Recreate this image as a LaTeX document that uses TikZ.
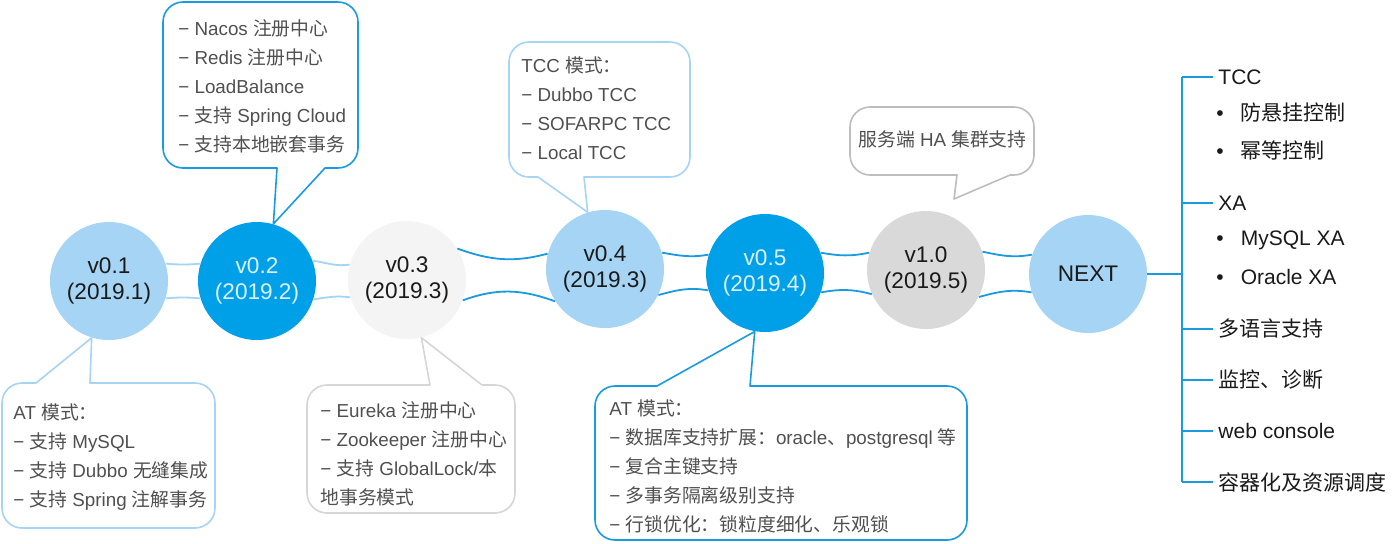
\documentclass[tikz,border=0pt]{standalone}
\usepackage{fontspec}
\setmainfont{Liberation Sans}
\newfontfamily\cjk{Noto Sans CJK SC}
\newcommand{\zh}[1]{{\cjk #1}}
\usepackage{tikz}
\usetikzlibrary{positioning,calc}

\definecolor{lblue}{HTML}{A6D4F4}
\definecolor{dblue}{HTML}{00A0E9}
\definecolor{lineblue}{HTML}{1A9BE0}
\definecolor{pale}{HTML}{F4F4F4}
\definecolor{midgray}{HTML}{D9D9D9}
\definecolor{ink}{HTML}{1A1A1A}
\definecolor{memogray}{HTML}{505050}
\definecolor{whitetxt}{HTML}{DDF1FC}
\definecolor{edgegray}{HTML}{D6D6D6}
\definecolor{edgedark}{HTML}{BDBDBD}

\begin{document}
\begin{tikzpicture}[x=0.5pt, y=-0.5pt,
    ver/.style={circle, minimum size=59pt, inner sep=0pt, fill=#1, align=center,
                font=\fontsize{11.3pt}{12.8pt}\selectfont, text=ink},
    ver/.default=lblue,
    memo/.style={anchor=north west, inner sep=0pt, align=left, text=memogray,
                 font=\fontsize{9.4pt}{14.5pt}\selectfont},
    bubble/.style={draw=#1, line width=0.8pt, line join=round},
    link/.style={draw=#1, line width=0.9pt},
    link/.default=lineblue,
    leaf/.style={anchor=west, inner xsep=2.5pt, inner ysep=0pt, text=ink,
                 font=\fontsize{10.5pt}{13pt}\selectfont},
    subleaf/.style={anchor=west, inner sep=0pt, text=ink,
                 font=\fontsize{10.5pt}{13pt}\selectfont},
    tree/.style={draw=lineblue, line width=1pt},
]
\path[fill=white, use as bounding box] (0,0) rectangle (1400,543);

% ===== versions =====
\node[ver]                      (v01) at (109,281)  {v0.1\\(2019.1)};
\node[ver=dblue, text=whitetxt] (v02) at (257,281)  {v0.2\\(2019.2)};
\node[ver=pale]                 (v03) at (407,280)  {v0.3\\(2019.3)};
\node[ver]                      (v04) at (605,269)  {v0.4\\(2019.3)};
\node[ver=dblue, text=whitetxt] (v05) at (765,273)  {v0.5\\(2019.4)};
\node[ver=midgray]              (v10) at (926,270)  {v1.0\\(2019.5)};
\node[ver]                      (next) at (1088,274) {NEXT};

% ===== double links =====
\draw[link=lblue] (v01.17) to[out=-5, in=185] (v02.163);
\draw[link=lblue] (v01.-17) to[out=5, in=175] (v02.-163);
\draw[link=lblue] (v02.20) to[out=-8, in=188] (v03.165);
\draw[link=lblue] (v02.-18) to[out=8, in=172] (v03.-163);
\draw[link] (v03.32) to[out=-20, in=195] (v04.165);
\draw[link] (v03.-20) to[out=20, in=160] (v04.-147);
\draw[link] (v04.16) to[out=-10, in=190] (v05.162);
\draw[link] (v04.-26) to[out=15, in=170] (v05.-163);
\draw[link] (v05.20) to[out=-10, in=192] (v10.163);
\draw[link] (v05.-19) to[out=10, in=165] (v10.-156);
\draw[link] (v10.18) to[out=-12, in=190] (next.161);
\draw[link] (v10.-27) to[out=15, in=170] (next.-162);

% ===== callouts =====
% v0.2
\draw[bubble=lineblue] (260,2) [rounded corners=10pt] -- (163,2) -- (163,168)
    [sharp corners] -- (277,168) -- (v02.74) -- (325,168)
    [rounded corners=10pt] -- (358,168) -- (358,2) -- cycle;
\node[memo] (t02) at (178,19) {− Nacos \zh{注册中心}\\− Redis \zh{注册中心}\\− LoadBalance\\− \zh{支持} Spring Cloud\\− \zh{支持本地嵌套事务}};

% v0.1
\draw[bubble=lblue] (150,528) [rounded corners=10pt] -- (2,528) -- (2,383)
    [sharp corners] -- (36,383) -- (v01.-107) -- (90,383)
    [rounded corners=10pt] -- (215,383) -- (215,528) -- cycle;
\node[memo] (t01) at (13,403) {AT \zh{模式：}\\− \zh{支持} MySQL\\− \zh{支持} Dubbo \zh{无缝集成}\\− \zh{支持} Spring \zh{注解事务}};

% v0.3
\draw[bubble=edgegray] (400,513) [rounded corners=10pt] -- (307,513) -- (307,385)
    [sharp corners] -- (430,385) -- (v03.-76) -- (482,385)
    [rounded corners=10pt] -- (515,385) -- (515,513) -- cycle;
\node[memo] (t03) at (320,401) {− Eureka \zh{注册中心}\\− Zookeeper \zh{注册中心}\\− \zh{支持} GlobalLock/\zh{本}\\\zh{地事务模式}};

% v0.4
\draw[bubble=lblue] (600,42) [rounded corners=10pt] -- (509,42) -- (509,177)
    [sharp corners] -- (538,177) -- (v04.107) -- (584,177)
    [rounded corners=10pt] -- (690,177) -- (690,42) -- cycle;
\node[memo] (t04) at (521,56) {TCC \zh{模式：}\\− Dubbo TCC\\− SOFARPC TCC\\− Local TCC};

% v1.0
\coordinate (tip10) at (954,199);
\draw[bubble=edgedark] (940,107) [rounded corners=10pt] -- (850,107) -- (850,175)
    [sharp corners] -- (957,175) -- (tip10) -- (1010,175)
    [rounded corners=10pt] -- (1034,175) -- (1034,107) -- cycle;
\node[memo, anchor=west] (t10) at (858,139) {\zh{服务端} HA \zh{集群支持}};

% v0.5
\draw[bubble=lineblue] (780,540) [rounded corners=10pt] -- (595,540) -- (595,386)
    [sharp corners] -- (657,386) -- (v05.-100) -- (750,386)
    [rounded corners=10pt] -- (967,386) -- (967,540) -- cycle;
\node[memo] (t05) at (609,399) {AT \zh{模式：}\\− \zh{数据库支持扩展：}oracle\zh{、}postgresql \zh{等}\\− \zh{复合主键支持}\\− \zh{多事务隔离级别支持}\\− \zh{行锁优化：锁粒度细化、乐观锁}};

% ===== NEXT tree =====
\coordinate (trunk) at (1182,274);
\node[leaf] (tcc)  at (1213,77)  {TCC};
\node[subleaf] (tcc1) at (1216,113) {•\hspace{8.5pt}\zh{防悬挂控制}};
\node[subleaf] (tcc2) at (1216,150) {•\hspace{8.5pt}\zh{幂等控制}};
\node[leaf] (xa)   at (1213,203) {XA};
\node[subleaf] (xa1)  at (1216,240) {•\hspace{8.5pt}MySQL XA};
\node[subleaf] (xa2)  at (1216,277) {•\hspace{8.5pt}Oracle XA};
\node[leaf] (lang) at (1213,329) {\zh{多语言支持}};
\node[leaf] (mon)  at (1213,380) {\zh{监控、诊断}};
\node[leaf] (web)  at (1213,431) {web console};
\node[leaf] (ctn)  at (1213,482) {\zh{容器化及资源调度}};

\draw[tree] (next.east) -- (trunk);
\draw[tree] (trunk |- tcc.west) -- (trunk |- ctn.west);
\draw[tree] (trunk |- tcc.west) -- (tcc.west);
\draw[tree] (trunk |- xa.west) -- (xa.west);
\draw[tree] (trunk |- lang.west) -- (lang.west);
\draw[tree] (trunk |- mon.west) -- (mon.west);
\draw[tree] (trunk |- web.west) -- (web.west);
\draw[tree] (trunk |- ctn.west) -- (ctn.west);

\end{tikzpicture}
\end{document}
